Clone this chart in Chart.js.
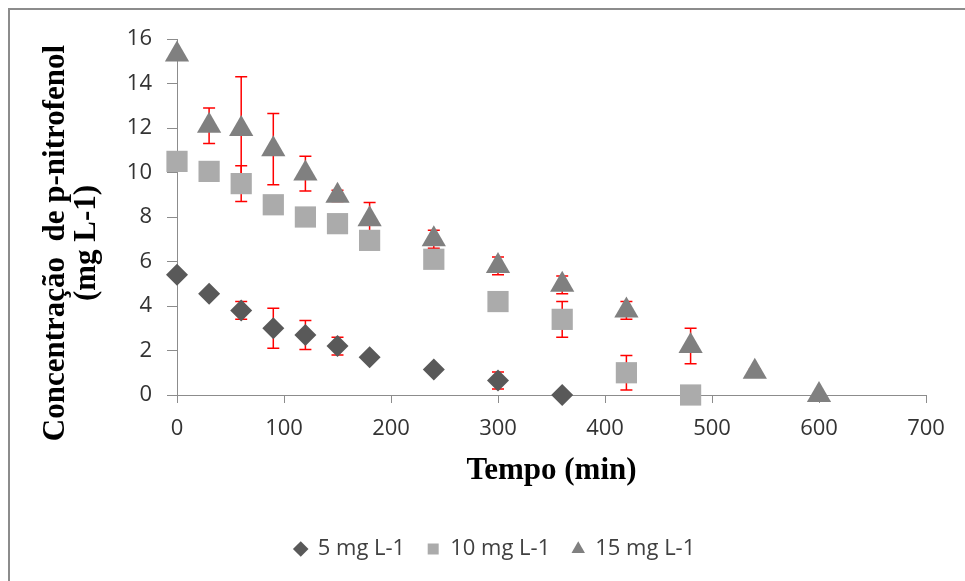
<!DOCTYPE html>
<html>
<head>
<meta charset="utf-8">
<script src="https://cdn.jsdelivr.net/npm/chart.js@4.4.1/dist/chart.umd.min.js"></script>
<style>
  html, body { margin: 0; padding: 0; background: #fff; overflow: hidden; }
  #wrap { position: relative; width: 965px; height: 581px; }
  #frame { position: absolute; left: 8px; top: 8px; width: 1000px; height: 1000px; border: 2px solid #8c8c8c; pointer-events: none; }
</style>
</head>
<body>
<div id="wrap">
  <canvas id="chart" width="965" height="581"></canvas>
  <div id="frame"></div>
</div>
<script>
// Sampling times (min) and concentrations (mg L-1)
const times5 = [0, 30, 60, 90, 120, 150, 180, 240, 300, 360];
const conc5  = [5.4, 4.55, 3.8, 3.0, 2.7, 2.2, 1.7, 1.15, 0.65, 0.0];
const err5   = [0, 0, 0.4, 0.9, 0.65, 0.4, 0, 0, 0.38, 0];

const times10 = [0, 30, 60, 90, 120, 150, 180, 240, 300, 360, 420, 480];
const conc10  = [10.5, 10.05, 9.5, 8.55, 8.0, 7.7, 6.95, 6.1, 4.2, 3.4, 1.0, 0.0];
const err10   = [0, 0, 0.8, 0, 0, 0, 0, 0, 0, 0.8, 0.77, 0];

const times15 = [0, 30, 60, 90, 120, 150, 180, 240, 300, 360, 420, 480, 540, 600];
const conc15  = [15.3, 12.1, 11.95, 11.05, 9.95, 8.95, 7.9, 7.0, 5.8, 4.95, 3.8, 2.2, 1.05, 0.0];
const err15   = [0, 0.8, 2.35, 1.6, 0.78, 0.25, 0.75, 0.4, 0.4, 0.4, 0.4, 0.8, 0.12, 0];

const seriesLabels = ['5 mg L-1', '10 mg L-1', '15 mg L-1'];
const xTitle = 'Tempo (min)';
const yTitle = ['Concentração  de p-nitrofenol', '(mg L-1)'];

const toPoints = (xs, ys) => xs.map((t, i) => ({ x: t, y: ys[i] }));

const axisGray = '#8c8c8c';
const labelFont = { family: 'Open Sans', size: 22 };
const titleFont = { family: 'Liberation Serif', size: 31, weight: 'bold', lineHeight: 1 };

// red vertical error bars, drawn under the markers
const errorBars = {
  id: 'errorBars',
  beforeDatasetsDraw(chart) {
    const { ctx, scales: { x, y } } = chart;
    ctx.save();
    ctx.strokeStyle = '#ff0000';
    ctx.lineWidth = 1.5;
    chart.data.datasets.forEach((ds, i) => {
      if (!chart.isDatasetVisible(i)) return;
      ds.data.forEach((p, j) => {
        const e = ds.errors[j];
        if (!e) return;
        const px = x.getPixelForValue(p.x);
        const top = y.getPixelForValue(p.y + e);
        const bot = y.getPixelForValue(p.y - e);
        ctx.beginPath();
        ctx.moveTo(px, top); ctx.lineTo(px, bot);
        ctx.moveTo(px - 6, top); ctx.lineTo(px + 6, top);
        ctx.moveTo(px - 6, bot); ctx.lineTo(px + 6, bot);
        ctx.stroke();
      });
    });
    ctx.restore();
  }
};

// y axis title, two rotated lines sitting a bit below the plot's middle (as in Excel)
const yAxisTitle = {
  id: 'yAxisTitle',
  afterDraw(chart) {
    const { ctx, chartArea } = chart;
    const cy = (chartArea.top + chartArea.bottom) / 2 + 26;
    ctx.save();
    ctx.translate(56, cy);
    ctx.rotate(-Math.PI / 2);
    ctx.font = `bold ${titleFont.size}px "${titleFont.family}"`;
    ctx.fillStyle = '#000';
    ctx.textAlign = 'center';
    ctx.textBaseline = 'middle';
    yTitle.forEach((line, i) => ctx.fillText(line, 0, i * 31));
    ctx.restore();
  }
};

new Chart(document.getElementById('chart'), {
  type: 'scatter',
  data: {
    datasets: [
      {
        label: seriesLabels[0],
        data: toPoints(times5, conc5),
        errors: err5,
        pointStyle: 'rectRot',
        pointRadius: 11,
        backgroundColor: '#595959',
        borderColor: '#595959',
        pointBackgroundColor: '#595959',
        pointBorderWidth: 0,
        order: 2
      },
      {
        label: seriesLabels[1],
        data: toPoints(times10, conc10),
        errors: err10,
        pointStyle: 'rect',
        pointRadius: 15,
        backgroundColor: '#ababab',
        borderColor: '#ababab',
        pointBackgroundColor: '#ababab',
        pointBorderWidth: 0,
        order: 1
      },
      {
        label: seriesLabels[2],
        data: toPoints(times15, conc15),
        errors: err15,
        pointStyle: 'triangle',
        pointRadius: 14,
        backgroundColor: '#808080',
        borderColor: '#808080',
        pointBackgroundColor: '#808080',
        pointBorderWidth: 0,
        order: 0
      }
    ]
  },
  options: {
    responsive: false,
    animation: false,
    events: [],
    clip: false,
    layout: { padding: { top: 39, left: 25, right: 0, bottom: 11 } },
    plugins: {
      tooltip: { enabled: false },
      legend: {
        position: 'bottom',
        labels: {
          usePointStyle: true,
          boxWidth: 12,
          boxHeight: 11,
          padding: 22,
          color: '#404040',
          font: labelFont,
          sort: (a, b) => a.datasetIndex - b.datasetIndex
        }
      }
    },
    scales: {
      x: {
        type: 'linear',
        min: 0,
        max: 700,
        ticks: { stepSize: 100, color: '#333', font: labelFont, padding: 13 },
        grid: { drawOnChartArea: false, drawTicks: true, tickLength: 8, color: axisGray },
        border: { color: axisGray, width: 1 },
        title: { display: true, text: xTitle, color: '#000', font: titleFont, padding: { top: 0, bottom: 30 } },
        afterFit(scale) {
          scale.height = 121;
          scale.paddingRight = 39;
        }
      },
      y: {
        min: 0,
        max: 16,
        ticks: { stepSize: 2, color: '#333', font: labelFont, padding: 15 },
        grid: { drawOnChartArea: false, drawTicks: true, tickLength: 10, color: axisGray },
        border: { color: axisGray, width: 1 },
        afterFit(scale) {
          scale.width = 152;
        }
      }
    }
  },
  plugins: [errorBars, yAxisTitle]
});
</script>
</body>
</html>
